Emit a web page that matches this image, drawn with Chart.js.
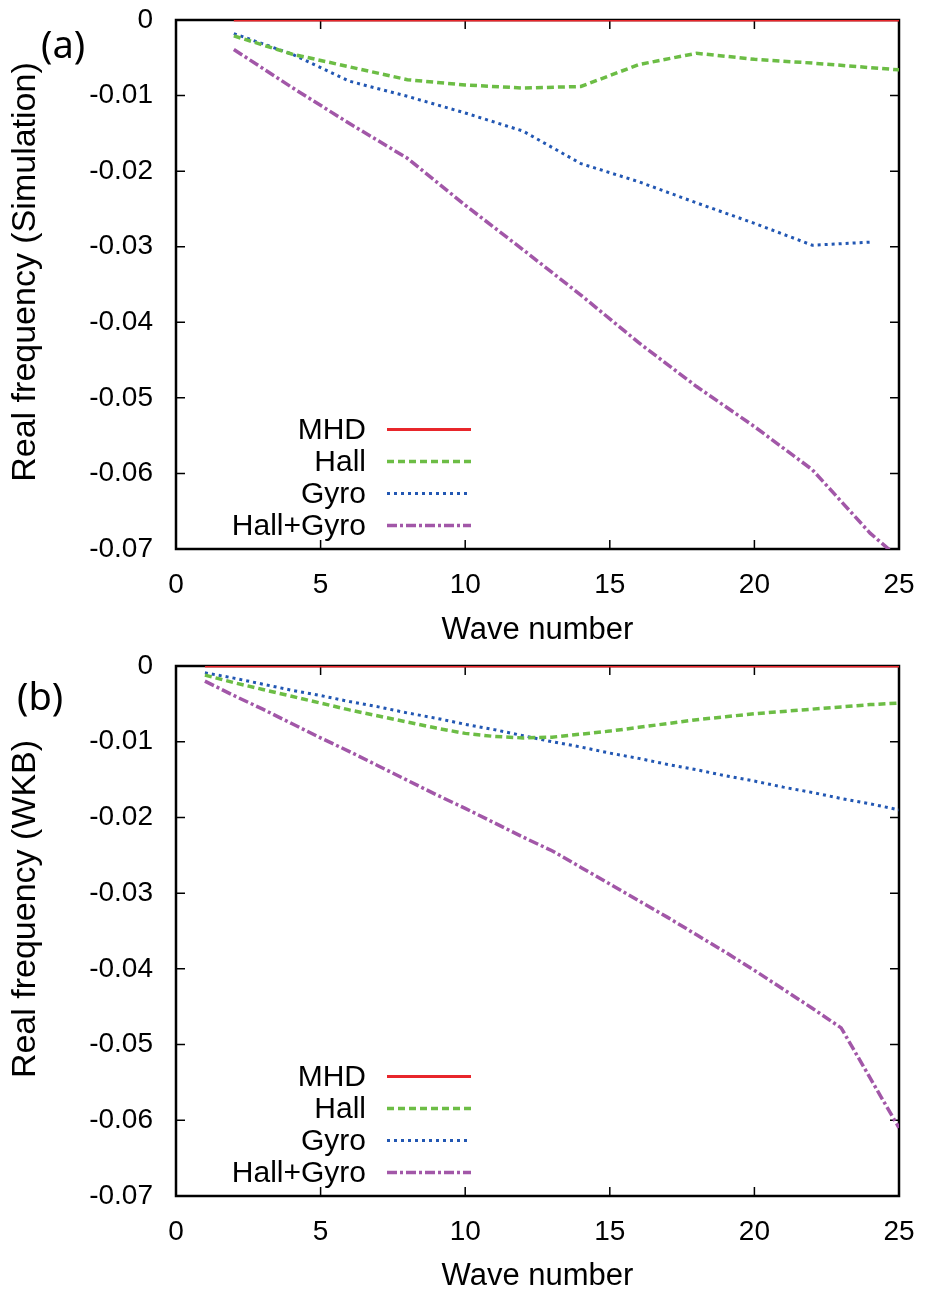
<!DOCTYPE html>
<html lang="en">
<head>
    <meta charset="UTF-8">
    <title>Real frequency vs wave number</title>
    <script src="https://cdn.jsdelivr.net/npm/chart.js"></script>
    <style>
        body { margin: 0; background: #fff; }
        .panel { position: absolute; left: 0; width: 926px; }
        #panelA { top: 0; height: 647px; }
        #panelB { top: 647px; height: 648px; }
    </style>
</head>
<body>
    <div class="panel" id="panelA"><canvas id="chartA"></canvas></div>
    <div class="panel" id="panelB"><canvas id="chartB"></canvas></div>

    <script>
        // (a) simulation, sampled every 2 wave numbers
        var simWave = [2, 4, 6, 8, 10, 12, 14, 16, 18, 20, 22, 24, 25];
        var simMHD = [0, 0, 0, 0, 0, 0, 0, 0, 0, 0, 0, 0, 0];
        var simHall = [-0.0021, -0.0045, -0.0062, -0.0079, -0.0086, -0.0090, -0.0088, -0.0059, -0.0044, -0.0052, -0.0057, -0.0063, -0.0066];
        var simGyro = [-0.0018, -0.0045, -0.0081, -0.0101, -0.0123, -0.0147, -0.0190, -0.0214, -0.0242, -0.0269, -0.0298, -0.0294, null];
        var simHallGyro = [-0.0039, -0.0089, -0.0137, -0.0183, -0.0245, -0.0304, -0.0364, -0.0427, -0.0485, -0.0538, -0.0595, -0.0679, -0.0712];

        // (b) WKB
        var wkbWave = [1, 2, 3, 4, 5, 6, 7, 8, 9, 10, 11, 12, 13, 14, 15, 16, 17, 18, 19, 20, 21, 22, 23, 24, 25];
        var wkbMHD = [0, 0, 0, 0, 0, 0, 0, 0, 0, 0, 0, 0, 0, 0, 0, 0, 0, 0, 0, 0, 0, 0, 0, 0, 0];
        var wkbHall = [-0.0012, -0.0022, -0.0031, -0.0040, -0.0049, -0.0058, -0.0066, -0.0074, -0.0082, -0.0089, -0.0093, -0.0095, -0.0094, -0.0090, -0.0086, -0.0081, -0.0076, -0.0071, -0.0067, -0.0063, -0.0060, -0.0057, -0.0054, -0.0051, -0.0049];
        var wkbGyro = [-0.0009, -0.0016, -0.0024, -0.0032, -0.0039, -0.0047, -0.0054, -0.0062, -0.0069, -0.0077, -0.0084, -0.0092, -0.0100, -0.0107, -0.0115, -0.0122, -0.0130, -0.0137, -0.0145, -0.0152, -0.0160, -0.0167, -0.0175, -0.0182, -0.0190];
        var wkbHallGyro = [-0.0020, -0.0039, -0.0057, -0.0076, -0.0095, -0.0113, -0.0132, -0.0151, -0.0170, -0.0188, -0.0207, -0.0226, -0.0244, -0.0266, -0.0288, -0.0310, -0.0332, -0.0355, -0.0378, -0.0402, -0.0427, -0.0452, -0.0478, -0.0544, -0.0610];

        var seriesNames = ['MHD', 'Hall', 'Gyro', 'Hall+Gyro'];
        var yTicks = [0, -0.01, -0.02, -0.03, -0.04, -0.05, -0.06, -0.07];
        var xTicks = [0, 5, 10, 15, 20, 25];

        var styles = [
            { color: '#e8262b', width: 3, dash: [] },
            { color: '#6cbd45', width: 3.5, dash: [7, 4] },
            { color: '#2257b3', width: 3, dash: [3, 4] },
            { color: '#a257a8', width: 3.5, dash: [10, 3, 3, 3] }
        ];

        var fontFamily = '"Liberation Sans", Arial, sans-serif';

        function toPoints(xs, ys) {
            return xs.map(function (x, i) { return { x: x, y: ys[i] }; });
        }

        function makeDatasets(xs, lists) {
            return lists.map(function (ys, i) {
                return {
                    label: seriesNames[i],
                    data: toPoints(xs, ys),
                    borderColor: styles[i].color,
                    borderWidth: styles[i].width,
                    borderDash: styles[i].dash,
                    pointRadius: 0,
                    tension: 0,
                    fill: false
                };
            });
        }

        // gnuplot style frame, inward ticks, legend, y title and panel letter
        var framePlugin = {
            id: 'frame',
            beforeDatasetsDraw: function (chart) {
                var ctx = chart.ctx, a = chart.chartArea;
                var x = chart.scales.x, y = chart.scales.y;
                ctx.save();
                ctx.strokeStyle = '#000';
                ctx.lineWidth = 1.5;
                ctx.beginPath();
                xTicks.forEach(function (v) {
                    var px = x.getPixelForValue(v);
                    ctx.moveTo(px, a.top); ctx.lineTo(px, a.top + 9);
                    ctx.moveTo(px, a.bottom); ctx.lineTo(px, a.bottom - 9);
                });
                yTicks.forEach(function (v) {
                    var py = y.getPixelForValue(v);
                    ctx.moveTo(a.left, py); ctx.lineTo(a.left + 9, py);
                    ctx.moveTo(a.right, py); ctx.lineTo(a.right - 9, py);
                });
                ctx.stroke();
                ctx.lineWidth = 2.5;
                ctx.strokeRect(a.left, a.top, a.right - a.left, a.bottom - a.top);
                ctx.restore();
            },
            afterDatasetsDraw: function (chart, args, opts) {
                var ctx = chart.ctx, a = chart.chartArea;
                ctx.save();
                ctx.font = '30px ' + fontFamily;
                ctx.textAlign = 'right';
                ctx.textBaseline = 'middle';
                chart.data.datasets.forEach(function (ds, i) {
                    var rowY = a.bottom - 119.5 + i * 32;
                    ctx.fillStyle = '#000';
                    ctx.fillText(ds.label, 366, rowY + 1);
                    ctx.strokeStyle = ds.borderColor;
                    ctx.lineWidth = ds.borderWidth;
                    ctx.setLineDash(ds.borderDash);
                    ctx.beginPath();
                    ctx.moveTo(387, rowY);
                    ctx.lineTo(471, rowY);
                    ctx.stroke();
                    ctx.setLineDash([]);
                });

                // panel letter
                ctx.font = '38px "Noto Sans", sans-serif';
                ctx.textAlign = 'left';
                ctx.fillStyle = '#000';
                ctx.fillText(opts.label, opts.labelX, a.top + opts.labelDy);

                // y axis title
                ctx.save();
                ctx.translate(26, opts.titleY);
                ctx.rotate(-Math.PI / 2);
                ctx.textAlign = 'center';
                ctx.font = '34px ' + fontFamily;
                ctx.fillText(opts.yTitle, 0, 0);
                ctx.restore();
                ctx.restore();
            }
        };

        function noOverhang(s) {
            s.paddingTop = 0;
            s.paddingBottom = 0;
            s.paddingLeft = 0;
            s.paddingRight = 0;
        }

        function makeChart(id, xs, lists, opts) {
            var ctx = document.getElementById(id).getContext('2d');
            return new Chart(ctx, {
                type: 'line',
                data: { datasets: makeDatasets(xs, lists) },
                plugins: [framePlugin],
                options: {
                    responsive: true,
                    maintainAspectRatio: false,
                    animation: false,
                    layout: { padding: { top: opts.padTop, right: 27, bottom: 0, left: 0 } },
                    plugins: {
                        legend: { display: false },
                        tooltip: { enabled: false },
                        frame: opts
                    },
                    scales: {
                        x: {
                            type: 'linear',
                            min: 0,
                            max: 25,
                            afterFit: function (s) { s.height = opts.xHeight; noOverhang(s); },
                            afterBuildTicks: function (s) { s.ticks = xTicks.map(function (v) { return { value: v }; }); },
                            grid: { display: false, drawTicks: false },
                            border: { display: false },
                            ticks: {
                                color: '#000',
                                padding: 19,
                                maxRotation: 0,
                                font: { family: fontFamily, size: 28 },
                                callback: function (v) { return String(v); }
                            },
                            title: {
                                display: true,
                                text: 'Wave number',
                                color: '#000',
                                padding: { top: 0, bottom: opts.xTitlePad },
                                font: { family: fontFamily, size: 31, lineHeight: 1 }
                            }
                        },
                        y: {
                            type: 'linear',
                            min: -0.07,
                            max: 0,
                            afterFit: function (s) { s.width = 176; noOverhang(s); },
                            afterBuildTicks: function (s) { s.ticks = yTicks.map(function (v) { return { value: v }; }); },
                            grid: { display: false, drawTicks: false },
                            border: { display: false },
                            ticks: {
                                color: '#000',
                                padding: 23,
                                font: { family: fontFamily, size: 28 },
                                callback: function (v) { return v === 0 ? '0' : v.toFixed(2); }
                            }
                        }
                    }
                }
            });
        }

        makeChart('chartA', simWave, [simMHD, simHall, simGyro, simHallGyro],
            { padTop: 20, xHeight: 98, xTitlePad: 1.5, label: '(a)', labelX: 41, labelDy: 27,
              yTitle: 'Real frequency (Simulation)', titleY: 272 });
        makeChart('chartB', wkbWave, [wkbMHD, wkbHall, wkbGyro, wkbHallGyro],
            { padTop: 19, xHeight: 99, xTitlePad: 3.5, label: '(b)', labelX: 17, labelDy: 33,
              yTitle: 'Real frequency (WKB)', titleY: 262 });
    </script>
</body>
</html>
